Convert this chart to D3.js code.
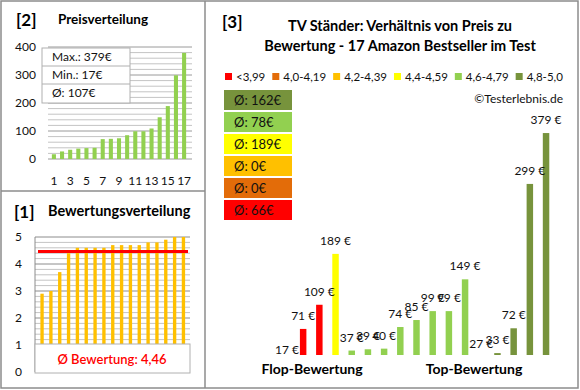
<!DOCTYPE html>
<html><head><meta charset="utf-8">
<script src="https://cdn.jsdelivr.net/npm/d3@7"></script>
<style>body{margin:0;background:#fff}svg{display:block;font-family:Lato,"Noto Sans",sans-serif}</style>
</head><body><svg id="c" width="580" height="390"></svg>
<script>
// ---- data ----
const ratingsSorted = [2.9,3.0,3.7,4.4,4.6,4.6,4.6,4.6,4.7,4.7,4.7,4.7,4.8,4.8,4.9,5.0,5.0];
const avgRating = 4.46;
const pricesSorted = [17,27,33,37,39,40,71,72,74,85,99,99,109,149,189,299,379];
const priceStats = ["Max.: 379€","Min.: 17€","Ø: 107€"];
const priceTicks = [0,100,200,300,400];
const priceXLabels = [1,3,5,7,9,11,13,15,17];
const ratingTicks = [0,1,2,3,4,5];
const classLabels = ["<3,99","4,0-4,19","4,2-4,39","4,4-4,59","4,6-4,79","4,8-5,0"];
const classColors = ["#FF0000","#E36C09","#FFC000","#FFFF00","#92D050","#77933C"];
const classAverages = [66,0,0,189,78,162];
const prodPrices = [17,71,109,189,37,39,40,74,85,99,99,149,27,33,72,299,379];
const prodClass = [0,0,0,3,4,4,4,4,4,4,4,4,5,5,5,5,5];

const svg = d3.select("#c");

// ---- panel borders ----
const bc = "#8c8c8c";
svg.append("rect").attr("x",1).attr("y",1).attr("width",577).attr("height",387).attr("fill","none").attr("stroke",bc).attr("stroke-width",1.5);
svg.append("line").attr("x1",205).attr("x2",205).attr("y1",1).attr("y2",388).attr("stroke",bc).attr("stroke-width",1.5);
svg.append("line").attr("x1",1).attr("x2",205).attr("y1",191).attr("y2",191).attr("stroke",bc).attr("stroke-width",1.5);

// ---- Panel 2: Preisverteilung ----
const p2 = svg.append("g");
p2.append("text").attr("x",16).attr("y",26).attr("font-size",17).attr("font-weight","bold").text("[2]");
p2.append("text").attr("x",58).attr("y",24).attr("font-size",13.5).attr("font-weight","bold").text("Preisverteilung");
const y2 = d3.scaleLinear().domain([0,400]).range([159,47]);
const x2 = d3.scaleBand().domain(d3.range(1,18)).range([47.8,190.2]).padding(0.5);
p2.selectAll(".g2").data(d3.range(0,401,20)).join("line")
  .attr("x1",48).attr("x2",192).attr("y1",d=>y2(d)).attr("y2",d=>y2(d))
  .attr("stroke",d=>d%100===0?"#9a9a9a":"#c4c4c4").attr("stroke-width",1);
p2.selectAll(".b2").data(pricesSorted).join("rect")
  .attr("x",(d,i)=>x2(i+1)).attr("width",x2.bandwidth())
  .attr("y",d=>y2(d)).attr("height",d=>y2(0)-y2(d)).attr("fill","#92D050");
p2.selectAll(".yt2").data(priceTicks).join("text")
  .attr("x",36).attr("y",d=>y2(d)+4).attr("text-anchor","end").attr("font-size",12).attr("fill","#111").text(d=>d);
p2.selectAll(".xt2").data(priceXLabels).join("text")
  .attr("x",d=>x2(d)+x2.bandwidth()/2).attr("y",185).attr("text-anchor","middle").attr("font-size",12).attr("fill","#111").text(d=>d);
// stats box
const sb = p2.append("g");
sb.append("rect").attr("x",42).attr("y",48).attr("width",88).attr("height",55).attr("fill","#fff").attr("stroke","#b0b0b0");
[66,84].forEach(yy=>sb.append("line").attr("x1",42).attr("x2",130).attr("y1",yy).attr("y2",yy).attr("stroke","#b0b0b0"));
sb.selectAll("text").data(priceStats).join("text")
  .attr("x",52).attr("y",(d,i)=>61+i*18).attr("font-size",12).attr("fill","#111").text(d=>d);

// ---- Panel 1: Bewertungsverteilung ----
const p1 = svg.append("g");
p1.append("text").attr("x",14).attr("y",218).attr("font-size",17).attr("font-weight","bold").text("[1]");
p1.append("text").attr("x",48).attr("y",216).attr("font-size",14.5).attr("font-weight","bold").text("Bewertungsverteilung");
const y1 = d3.scaleLinear().domain([0,5]).range([372,237]);
const x1 = d3.scaleBand().domain(d3.range(17)).range([34.9,190.6]).padding(0.62);
p1.selectAll(".g1").data(d3.range(0,26).map(d=>d/5)).join("line")
  .attr("x1",35).attr("x2",190).attr("y1",d=>y1(d)).attr("y2",d=>y1(d))
  .attr("stroke",d=>Math.abs(d-Math.round(d))<1e-6?"#8c8c8c":"#c4c4c4");
p1.append("line").attr("x1",35).attr("x2",35).attr("y1",237).attr("y2",372).attr("stroke","#8c8c8c");
p1.selectAll(".b1").data(ratingsSorted).join("rect")
  .attr("x",(d,i)=>x1(i)).attr("width",x1.bandwidth())
  .attr("y",d=>y1(d)).attr("height",d=>y1(0)-y1(d)).attr("fill","#FFC000");
p1.append("line").attr("x1",38).attr("x2",188).attr("y1",y1(avgRating)).attr("y2",y1(avgRating)).attr("stroke","#FF0000").attr("stroke-width",3);
p1.selectAll(".yt1").data(ratingTicks).join("text")
  .attr("x",22).attr("y",d=>y1(d)+4).attr("text-anchor","end").attr("font-size",12).attr("fill","#111").text(d=>d);
p1.append("rect").attr("x",35).attr("y",344).attr("width",155).attr("height",29).attr("fill","#fff").attr("stroke","#b0b0b0");
p1.append("text").attr("x",112).attr("y",364).attr("text-anchor","middle").attr("font-size",13).attr("font-weight","600").attr("fill","#FF0000")
  .text("Ø Bewertung: " + avgRating.toFixed(2).replace(".",","));

// ---- Panel 3 ----
const p3 = svg.append("g");
p3.append("text").attr("x",222).attr("y",28).attr("font-size",17).attr("font-weight","bold").text("[3]");
p3.append("text").attr("x",400).attr("y",31).attr("text-anchor","middle").attr("font-size",14.5).attr("font-weight","bold").text("TV Ständer: Verhältnis von Preis zu");
p3.append("text").attr("x",400).attr("y",51).attr("text-anchor","middle").attr("font-size",14.5).attr("font-weight","bold").text("Bewertung - 17 Amazon Bestseller im Test");
// legend
let lx = 225;
classLabels.forEach((lab,i)=>{
  p3.append("rect").attr("x",lx).attr("y",73).attr("width",7).attr("height",7).attr("fill",classColors[i]);
  const t = p3.append("text").attr("x",lx+11).attr("y",81).attr("font-size",11.5).attr("fill","#111").text(lab);
  lx += 11 + t.node().getComputedTextLength() + 7;
});
// average boxes (top: best class)
const boxOrder = d3.range(classLabels.length).reverse();
p3.selectAll(".ab").data(boxOrder).join("rect")
  .attr("x",224).attr("y",(d,i)=>90+i*22).attr("width",68).attr("height",20).attr("fill",d=>classColors[d]);
p3.selectAll(".at").data(boxOrder).join("text")
  .attr("x",234).attr("y",(d,i)=>104.5+i*22).attr("font-size",13).attr("fill","#111").text(d=>"Ø: "+classAverages[d]+"€");
p3.append("text").attr("x",563).attr("y",103).attr("text-anchor","end").attr("font-size",12).attr("fill","#111").text("©Testerlebnis.de");
// bars
const y3 = d3.scaleLinear().domain([30,400]).range([355,119.7]);
const x3 = d3.scaleBand().domain(d3.range(17)).range([274,559]).padding(0.6);
p3.selectAll(".b3").data(prodPrices).join("rect")
  .attr("x",(d,i)=>x3(i)).attr("width",x3.bandwidth())
  .attr("y",d=>y3(Math.max(d,30))).attr("height",d=>y3(30)-y3(Math.max(d,30)))
  .attr("fill",(d,i)=>classColors[prodClass[i]]);
p3.selectAll(".l3").data(prodPrices).join("text")
  .attr("x",(d,i)=>x3(i)+x3.bandwidth()/2).attr("y",d=>y3(d)-9).attr("text-anchor","middle")
  .attr("font-size",12).attr("fill","#111").text(d=>d+" €");
p3.append("text").attr("x",312).attr("y",374).attr("text-anchor","middle").attr("font-size",14).attr("font-weight","bold").text("Flop-Bewertung");
p3.append("text").attr("x",474).attr("y",374).attr("text-anchor","middle").attr("font-size",14).attr("font-weight","bold").text("Top-Bewertung");
</script></body></html>
